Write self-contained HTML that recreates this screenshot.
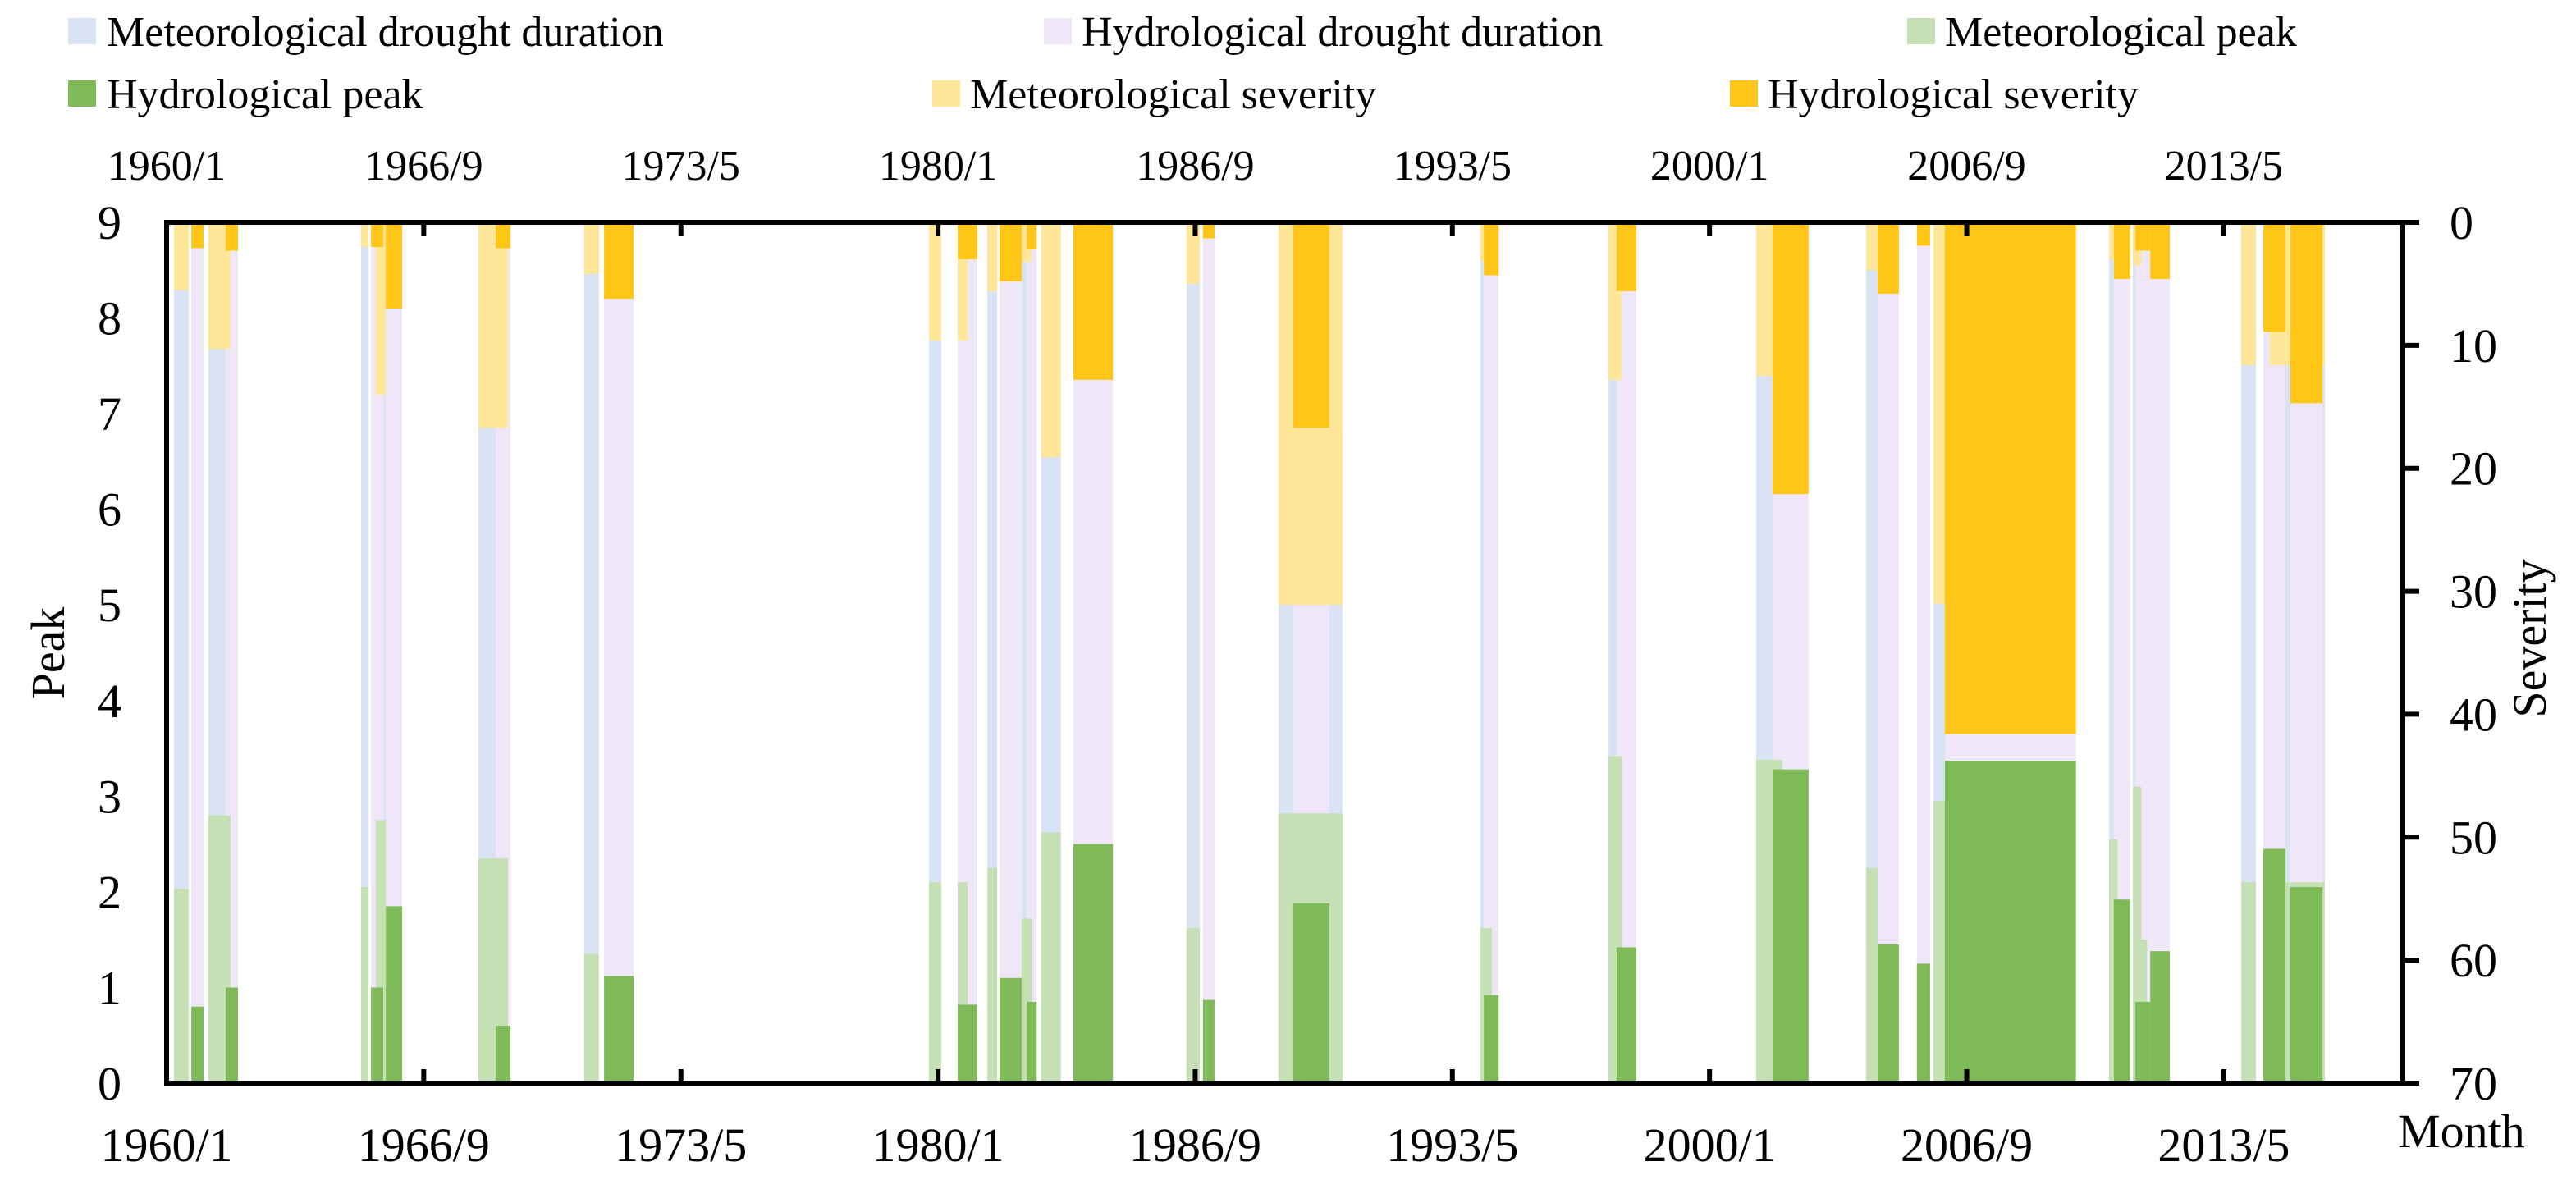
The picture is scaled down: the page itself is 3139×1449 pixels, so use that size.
<!DOCTYPE html>
<html><head><meta charset="utf-8">
<style>
html,body{margin:0;padding:0;background:#fff;}
svg{display:block;font-family:"Liberation Serif","Times New Roman",serif;}
</style></head>
<body>
<svg id="chart" width="3139" height="1449" viewBox="0 0 3139 1449" xmlns="http://www.w3.org/2000/svg">
  <g id="legend" font-size="52" fill="#000">
    <g><rect x="83" y="22" width="34" height="32" fill="#dae3f3"/><text x="130" y="56">Meteorological drought duration</text></g>
    <g><rect x="1272" y="22" width="34" height="32" fill="#efe7f7"/><text x="1318" y="56">Hydrological drought duration</text></g>
    <g><rect x="2324" y="22" width="34" height="32" fill="#c5e0b4"/><text x="2370" y="56">Meteorological peak</text></g>
    <g><rect x="83" y="98" width="34" height="32" fill="#7fba58"/><text x="130" y="132">Hydrological peak</text></g>
    <g><rect x="1136" y="98" width="34" height="32" fill="#ffe699"/><text x="1182" y="132">Meteorological severity</text></g>
    <g><rect x="2108" y="98" width="34" height="32" fill="#ffc618"/><text x="2154" y="132">Hydrological severity</text></g>
  </g>
  <g id="bars"></g>
  <g id="axes"></g>
  <text transform="translate(78,796) rotate(-90)" font-size="58" text-anchor="middle">Peak</text>
  <text transform="translate(3102,778) rotate(-90)" font-size="58" text-anchor="middle">Severity</text>
  <text x="2922" y="1398" font-size="58">Month</text>
</svg>
<script>
// ---- data (months since 1960/1) ----
const metStart = [2.3,13.0,60.5,65.1,97.0,129.9,237.2,246.1,255.3,266.0,272.1,317.3,345.9,408.7,448.6,494.5,528.7,549.7,604.3,611.7,613.0,645.4,654.3];
const metDur   = [4.6,6.9,2.3,3.1,9.2,4.6,3.8,3.1,3.1,3.1,6.1,4.1,19.9,3.6,4.1,8.2,3.6,4.1,2.6,2.6,3.1,4.6,17.1];
const metPeak  = [2.03,2.8,2.05,2.75,2.35,1.35,2.1,2.1,2.25,1.72,2.62,1.62,2.82,1.62,3.42,3.38,2.25,2.95,2.55,3.1,1.5,2.1,2.1];
const metSev   = [5.5,10.3,2.0,14,16.7,4.2,9.6,9.6,5.6,3.2,19.1,5.0,31.1,3.1,12.8,12.5,3.9,31,3,3.5,2,11.6,11.6];
const hydStart = [7.7,18.4,63.6,68.2,102.4,136.1,246.1,259.1,267.6,282.1,322.4,350.5,409.8,451.1,499.6,532.3,544.5,553.2,605.8,612.5,617.1,652.3,660.7];
const hydDur   = [3.8,3.8,3.8,5.1,4.6,9.2,6.1,6.9,3.1,12.3,3.6,11.2,4.6,6.1,11.2,6.6,4.1,40.8,5.1,4.6,6.1,6.9,10.0];
const hydPeak  = [0.8,1.0,1.0,1.85,0.6,1.12,0.82,1.1,0.85,2.5,0.87,1.88,0.92,1.42,3.28,1.45,1.25,3.37,1.92,0.85,1.38,2.45,2.05];
const hydSev   = [2.1,2.3,2.0,7,2.1,6.2,3.0,4.8,2.2,12.8,1.3,16.7,4.3,5.6,22.1,5.8,1.9,41.6,4.6,2.3,4.6,8.9,14.7];
const xTickMonths = [0,80,160,240,320,400,480,560,640];
const xTickLabels = ["1960/1","1966/9","1973/5","1980/1","1986/9","1993/5","2000/1","2006/9","2013/5"];
const peakTicks = [0,1,2,3,4,5,6,7,8,9];
const sevTicks = [0,10,20,30,40,50,60,70];

const X0=203, X1=2928, YT=271, YB=1320, PXM=3.917;
const xS = m => X0 + m*PXM;
const yPeak = v => YB - v*(YB-YT)/9;
const ySev = v => YT + v*(YB-YT)/70;
const NS="http://www.w3.org/2000/svg";
const bars=document.getElementById('bars'), axes=document.getElementById('axes');
function mk(tag, attrs, parent){const e=document.createElementNS(NS,tag);for(const k in attrs)e.setAttribute(k,attrs[k]);parent.appendChild(e);return e;}
function rect(x0,x1,y0,y1,fill,name){
  const r=mk('rect',{x:x0,y:Math.min(y0,y1),width:Math.max(0,x1-x0),height:Math.abs(y1-y0),fill:fill},bars);
  
  
}
metStart.forEach((s,i)=>rect(xS(s),xS(s+metDur[i]),YT,YB,'#dae3f3','met-duration-bar'));
hydStart.forEach((s,i)=>rect(xS(s),xS(s+hydDur[i]),YT,YB,'#efe7f7','hyd-duration-bar'));
metStart.forEach((s,i)=>rect(xS(s),xS(s+metDur[i]),YT,ySev(metSev[i]),'#ffe699','met-severity-bar'));
hydStart.forEach((s,i)=>rect(xS(s),xS(s+hydDur[i]),YT,ySev(hydSev[i]),'#ffc618','hyd-severity-bar'));
metStart.forEach((s,i)=>rect(xS(s),xS(s+metDur[i]),yPeak(metPeak[i]),YB,'#c5e0b4','met-peak-bar'));
hydStart.forEach((s,i)=>rect(xS(s),xS(s+hydDur[i]),yPeak(hydPeak[i]),YB,'#7fba58','hyd-peak-bar'));

mk('rect',{x:X0,y:YT,width:X1-X0,height:YB-YT,fill:'none',stroke:'#000','stroke-width':6},axes);
xTickMonths.forEach((m,i)=>{
  const x=xS(m);
  mk('line',{x1:x,x2:x,y1:YB,y2:YB-17,stroke:'#000','stroke-width':6},axes);
  mk('line',{x1:x,x2:x,y1:YT,y2:YT+17,stroke:'#000','stroke-width':6},axes);
  const tb=mk('text',{x:x,y:1415,'font-size':58,'text-anchor':'middle'},axes);
  tb.textContent=xTickLabels[i];
  
  
  const tt=mk('text',{x:x,y:219,'font-size':52,'text-anchor':'middle'},axes);
  tt.textContent=xTickLabels[i];
  
  
});
peakTicks.forEach(v=>{
  const t=mk('text',{x:148,y:yPeak(v)+20,'font-size':58,'text-anchor':'end'},axes);
  t.textContent=v;
  
  
});
sevTicks.forEach(v=>{
  const y=ySev(v);
  mk('line',{x1:X1,x2:X1+20,y1:y,y2:y,stroke:'#000','stroke-width':6},axes);
  const t=mk('text',{x:2985,y:y+20,'font-size':58},axes);
  t.textContent=v;
  
  
});
</script>
</body></html>
